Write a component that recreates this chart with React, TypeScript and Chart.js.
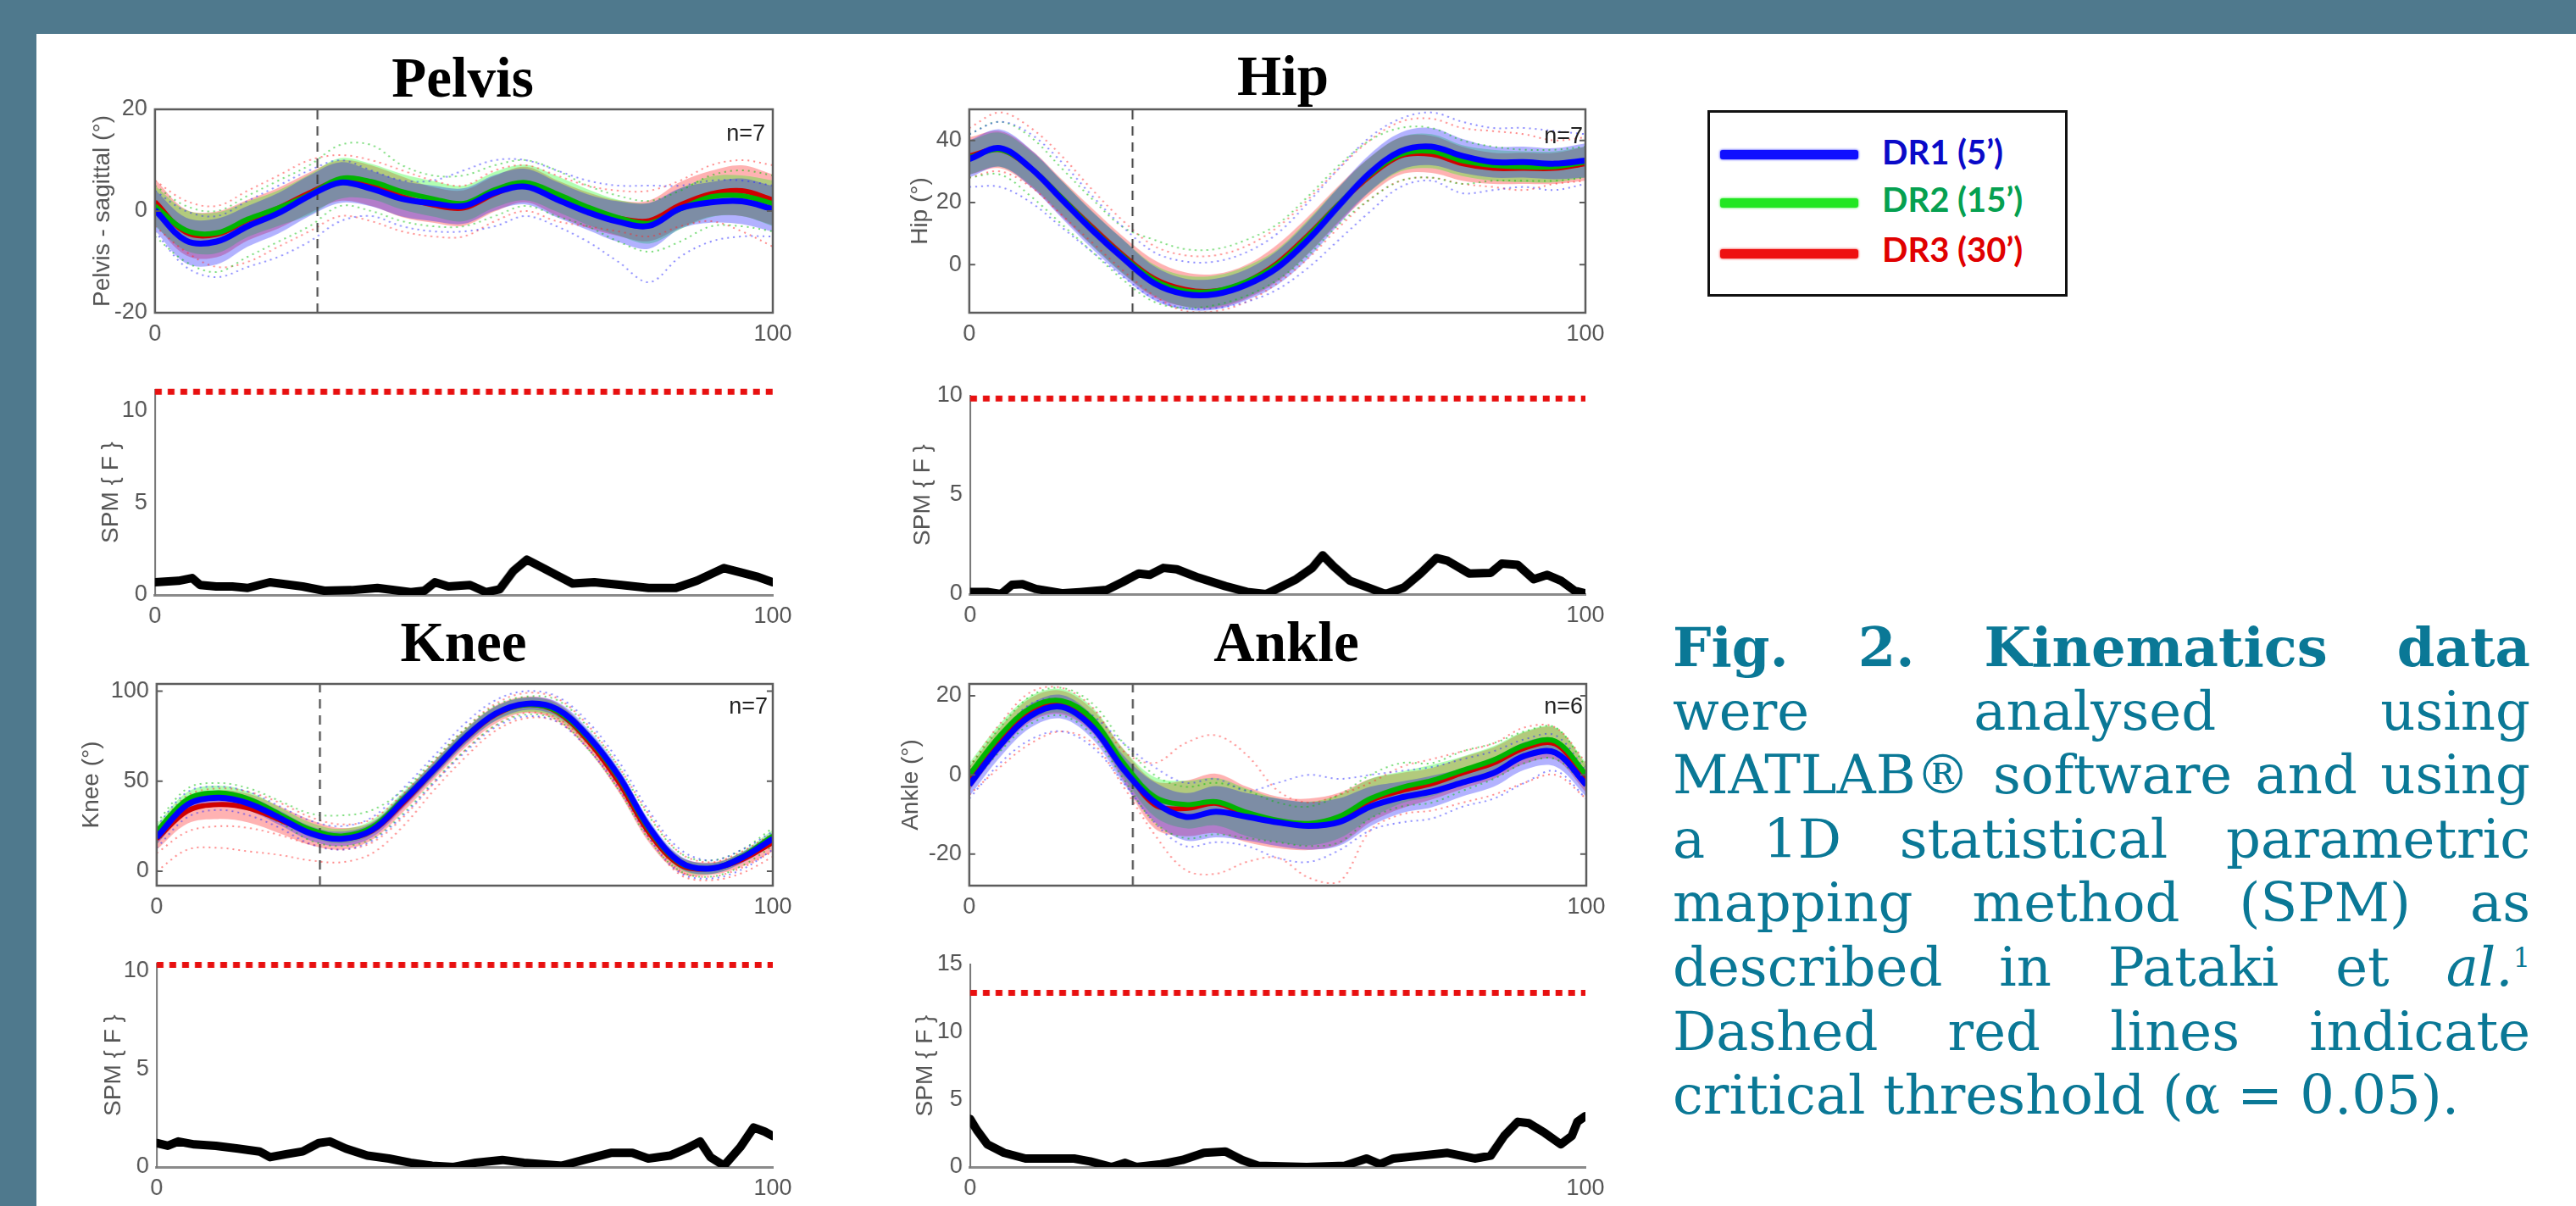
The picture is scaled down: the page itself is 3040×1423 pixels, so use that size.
import React, { useEffect, useRef } from "react";
import { Chart, registerables } from "chart.js";
Chart.register(...registerables);

// ---------------- DATA ----------------
const X = [0, 5, 10, 15, 20, 25, 30, 35, 40, 45, 50, 55, 60, 65, 70, 75, 80, 85, 90, 95, 100];
const X_TICKS = [0, 100];
const CONDITIONS = ["DR1 (5’)", "DR2 (15’)", "DR3 (30’)"];

// Pelvis (sagittal)
const pelvisDR1 = [0.2, -5.8, -6.0, -3.0, -0.4, 3.0, 5.6, 4.4, 2.4, 1.5, 1.0, 3.6, 4.8, 2.3, -0.2, -2.1, -2.9, 0.5, 1.7, 1.9, 0.4];
const pelvisDR2 = [1.0, -3.8, -4.3, -1.6, 0.6, 3.2, 6.4, 5.8, 3.8, 2.4, 1.5, 4.2, 5.6, 3.4, 0.8, -1.3, -2.4, 0.4, 2.8, 3.0, 1.5];
const pelvisDR3 = [1.8, -4.2, -4.6, -1.8, 0.6, 3.6, 6.0, 5.0, 2.8, 1.2, 0.6, 3.4, 5.2, 2.6, 0.2, -1.4, -1.9, 1.2, 3.4, 4.0, 2.2];
const pelvisSD1 = [4, 4.5, 4.5, 4, 4, 4, 4, 3.5, 3.5, 3.5, 3.5, 3.5, 3.5, 3.5, 3.5, 4, 4.5, 4, 4, 4.5, 4.5];
const pelvisSD2 = [4, 4, 4, 3.5, 3.5, 4, 4, 3.5, 3.5, 3.5, 3.5, 3.5, 3.5, 3.5, 3.5, 3.5, 4, 4, 4, 4, 4.5];
const pelvisSD3 = [4.5, 4.5, 4.5, 4, 4, 4, 4, 4, 4, 3.5, 3.5, 3.5, 3.5, 3.5, 3.5, 3.5, 4, 4.5, 4.5, 5, 5];
const pelvisTrialsDR1 = [
  [4, 0, -1, 2, 5, 8, 10, 8, 6, 6, 8, 10, 10, 8, 6, 5, 5, 5, 6, 6, 5],
  [-4, -11, -13, -11, -9, -6, -2, -1, -3, -4, -4, -3, -1, -3, -6, -10, -14, -9, -6, -5, -5],
];
const pelvisTrialsDR2 = [
  [5, 1, 0, 3, 6, 9, 13, 13, 9, 7, 7, 9, 10, 8, 5, 3, 2, 4, 7, 8, 7],
  [-5, -10, -12, -9, -6, -3, 1, 0, -2, -3, -3, -1, 1, -1, -3, -6, -8, -6, -3, -3, -4],
];
const pelvisTrialsDR3 = [
  [6, 2, 1, 4, 7, 10, 11, 10, 8, 6, 5, 8, 9, 7, 5, 4, 4, 6, 9, 10, 9],
  [-3, -8, -11, -10, -7, -4, -1, -2, -4, -5, -5, -2, 0, -2, -3, -4, -5, -3, -2, -4, -7],
];

// Hip
const hipDR1 = [34, 37.5, 31, 21, 11, 2, -6, -9.5, -9.5, -6.5, -1, 8, 19, 29.5, 36.5, 38, 35, 33, 33, 32.5, 33.5];
const hipDR2 = [34.5, 37, 31, 21.5, 11.5, 2.5, -5, -8.5, -8.5, -5.5, 0, 9, 19.5, 29, 35.5, 36.5, 33.5, 32, 31.5, 31.5, 33];
const hipDR3 = [35, 37, 31, 21.5, 12, 3, -4.5, -8, -8.5, -5.5, 0.5, 9.5, 19.5, 28.5, 35, 35.5, 32.5, 31, 31, 31, 32.5];
const hipSD1 = [6, 6, 6, 6, 6, 6, 5.5, 5, 5, 5, 5.5, 6, 6, 6, 6, 6, 5.5, 5, 5, 5, 5.5];
const hipSD2 = [5.5, 5.5, 5.5, 5.5, 5.5, 5.5, 5, 5, 5, 5, 5, 5.5, 5.5, 5.5, 5.5, 5.5, 5, 5, 5, 5, 5];
const hipSD3 = [6, 6, 6, 6, 6, 6, 6, 5.5, 5.5, 5.5, 6, 6, 6, 6, 6, 6, 5.5, 5, 5, 5, 5.5];
const hipTrialsDR1 = [
  [42, 46, 42, 33, 22, 12, 4, 1, 1, 4, 10, 20, 31, 41, 47, 49, 46, 44, 44, 43, 42],
  [25, 25, 20, 12, 4, -4, -11, -14, -14, -12, -8, -1, 8, 17, 25, 27, 23, 24, 25, 24, 26],
];
const hipTrialsDR2 = [
  [42, 46, 41, 31, 21, 12, 8, 5, 5, 8, 13, 22, 32, 40, 44, 44, 40, 38, 37, 37, 38],
  [28, 29, 22, 13, 4, -5, -12, -14, -13, -10, -5, 3, 13, 21, 27, 28, 26, 27, 27, 27, 28],
];
const hipTrialsDR3 = [
  [44, 49, 44, 35, 24, 14, 6, 3, 3, 6, 12, 21, 31, 40, 46, 47, 44, 43, 42, 40, 41],
  [28, 30, 25, 16, 7, -2, -10, -15, -15, -12, -6, 2, 12, 21, 27, 28, 26, 25, 24, 26, 27],
];

// Knee
const kneeDR1 = [18.8, 37, 40.8, 37.5, 29.5, 21, 18, 23, 39, 56.5, 74, 87.5, 93, 90, 75, 53, 24, 5, 1.5, 7.5, 18];
const kneeDR2 = [22, 40, 43.5, 40, 31.5, 23, 19.5, 24.5, 40, 57, 74.5, 87.5, 92.5, 89, 74, 52, 23, 4.5, 1.5, 8, 19.5];
const kneeDR3 = [18, 33.5, 37, 35, 28.5, 21.5, 18, 22.5, 38, 56, 73.5, 87, 92.5, 88.5, 72.5, 49.5, 21, 3.5, 1.5, 6.5, 16];
const kneeSD1 = [4, 4, 4, 4, 4, 4, 4, 4, 4, 4, 4, 4, 3.5, 4, 4, 4, 4, 3.5, 3, 3, 3.5];
const kneeSD2 = [4, 4, 4, 4, 4, 4, 4, 4, 4, 4, 4, 4, 4, 4, 4, 4, 4, 3.5, 3, 3, 3.5];
const kneeSD3 = [6, 7, 8, 8, 7.5, 7, 6, 5, 5, 5, 5, 5, 4.5, 5, 5, 5.5, 5.5, 4.5, 3.5, 4, 5];
const kneeTrialsDR1 = [
  [25, 44, 47, 44, 36, 28, 25, 30, 46, 64, 82, 95, 100, 97, 83, 61, 33, 12, 6, 12, 22],
  [13, 30, 34, 31, 24, 15, 12, 17, 31, 49, 66, 80, 86, 83, 68, 46, 18, -1, -4, 1, 12],
];
const kneeTrialsDR2 = [
  [27, 46, 49, 46, 39, 32, 31, 34, 45, 62, 79, 92, 97, 95, 80, 58, 30, 10, 6, 12, 24],
  [16, 34, 37, 34, 27, 17, 14, 18, 32, 50, 67, 81, 87, 84, 68, 45, 17, 0, -3, 3, 14],
];
const kneeTrialsDR3 = [
  [24, 42, 46, 44, 38, 30, 26, 29, 43, 61, 79, 93, 99, 96, 81, 58, 31, 10, 5, 11, 21],
  [0, 12, 13, 11, 9, 6, 5, 10, 25, 45, 63, 78, 85, 83, 68, 45, 18, -2, -5, -1, 8],
  [10, 22, 25, 24, 20, 15, 12, 16, 30, 49, 67, 81, 88, 85, 70, 47, 20, 0, -3, 2, 11],
];

// Ankle
const ankleDR1 = [-2.5, 7.5, 15, 17.2, 12, 1.4, -6.8, -10.6, -9.3, -10.6, -12, -12.9, -11.9, -8, -5.7, -4.2, -1.9, 0.5, 4.8, 5.6, -2.5];
const ankleDR2 = [0, 10, 17, 18.7, 14, 3, -5.5, -7.5, -6.8, -9.5, -11.5, -12.3, -10.5, -6, -3.2, -1.4, 1.2, 3.8, 7.5, 8.5, 0];
const ankleDR3 = [-1, 9, 16.5, 18.3, 13.5, 2.5, -7.5, -8.5, -7.2, -10, -12, -12.5, -11, -6.5, -4, -2.2, 0.5, 3, 6.8, 7.8, -1];
const ankleSD1 = [3, 3, 3, 3, 3, 3.5, 5, 6, 6.5, 6, 6, 6, 6, 5, 4, 4, 3.5, 3.5, 3.5, 3.5, 3];
const ankleSD2 = [3, 3, 3, 3, 3, 3.5, 5, 6, 6, 6, 5.5, 5.5, 5.5, 5, 4, 4, 3.5, 3.5, 3.5, 3.5, 3];
const ankleSD3 = [3, 3, 3, 3, 3, 4, 6, 7, 7.5, 7, 6.5, 6.5, 6.5, 5.5, 4.5, 4, 4, 4, 4, 4, 3.5];
const ankleTrialsDR1 = [
  [0, 10, 18, 19, 15, 8, 2, -2, -1, -4, -2, 0, -1, 0, 1, 2, 4, 6, 9, 10, 1],
  [-6, 3, 9, 11, 7, -2, -12, -18, -17, -18, -21, -22, -19, -14, -12, -11, -8, -6, -2, 1, -6],
];
const ankleTrialsDR2 = [
  [2, 12, 20, 22, 18, 8, 0, -3, -2, -4, -7, -8, -5, 0, 3, 3, 6, 8, 11, 12, 2],
  [-3, 6, 13, 15, 10, -1, -12, -16, -15, -16, -17, -18, -17, -11, -8, -7, -4, -1, 3, 4, -3],
];
const ankleTrialsDR3 = [
  [2, 13, 21, 22, 17, 6, 3, 8, 10, 5, -4, -7, -5, -2, 2, 4, 6, 8, 12, 12, 3],
  [-5, 2, 8, 11, 8, -3, -15, -24, -25, -22, -21, -26, -27, -14, -10, -9, -7, -5, -2, 0, -6],
];

// SPM{F} curves
const spmPelvisX = [0, 3.8, 6, 7.3, 9.9, 12.5, 15, 18.6, 23.9, 27.4, 31.8, 36, 41.4, 43.6, 45.3, 47.5, 51, 53.6, 55.8, 58, 60.2, 62.4, 65, 67.6, 71.1, 75.5, 79.9, 84.3, 87.7, 92.1, 94.8, 97.4, 100];
const spmPelvisF = [0.69, 0.77, 0.92, 0.54, 0.46, 0.46, 0.38, 0.69, 0.46, 0.23, 0.26, 0.38, 0.15, 0.23, 0.69, 0.46, 0.54, 0.15, 0.31, 1.3, 1.92, 1.54, 1.08, 0.62, 0.69, 0.54, 0.38, 0.38, 0.77, 1.46, 1.23, 1.0, 0.69];
const spmHipX = [0, 2.8, 5, 6.8, 8.5, 10.7, 15.1, 17.8, 22.2, 24.8, 27.4, 29.2, 31.4, 33.6, 37.1, 41.5, 45, 48.1, 50.3, 53, 55.6, 57.3, 59.1, 61.7, 65.3, 67.5, 70.5, 73.2, 75.8, 77.6, 81.1, 84.6, 86.4, 89, 91.6, 93.8, 96, 98.2, 100];
const spmHipF = [0.11, 0.11, 0, 0.47, 0.5, 0.26, 0.04, 0.1, 0.21, 0.61, 1.04, 0.97, 1.32, 1.25, 0.83, 0.4, 0.11, 0, 0.33, 0.75, 1.32, 1.96, 1.39, 0.68, 0.26, 0, 0.33, 1.04, 1.82, 1.68, 1.04, 1.07, 1.54, 1.47, 0.75, 0.97, 0.68, 0.18, 0.04];
const spmKneeX = [0, 1.8, 3.5, 6.1, 9.6, 13.2, 16.7, 18.4, 21, 23.7, 26.3, 28.1, 30.7, 34.2, 37.7, 41.2, 44.7, 48.2, 51.8, 56.1, 59.6, 65.8, 69.3, 73.7, 77.2, 79.8, 83.3, 86, 88.2, 89.9, 92.1, 94.7, 96.9, 98.7, 100];
const spmKneeF = [1.22, 1.08, 1.3, 1.15, 1.08, 0.94, 0.79, 0.5, 0.65, 0.79, 1.22, 1.3, 0.94, 0.58, 0.43, 0.22, 0.07, 0, 0.22, 0.36, 0.22, 0.07, 0.36, 0.72, 0.72, 0.43, 0.58, 0.94, 1.3, 0.5, 0.07, 1.0, 2.01, 1.8, 1.58];
const spmAnkleX = [0, 1.1, 2.8, 5.5, 9, 13.4, 16.9, 19.5, 23, 25.2, 27, 31, 34.5, 38, 41.5, 44.2, 46.8, 54.7, 60.9, 64.4, 66.6, 68.8, 73.2, 77.6, 82, 84.6, 86.8, 89, 90.8, 93.4, 96, 97.8, 98.7, 100];
const spmAnkleF = [3.56, 2.73, 1.68, 1.05, 0.63, 0.63, 0.63, 0.42, 0, 0.31, 0, 0.21, 0.52, 1.05, 1.15, 0.52, 0.1, 0, 0.1, 0.63, 0.21, 0.63, 0.84, 1.05, 0.63, 0.84, 2.31, 3.35, 3.25, 2.52, 1.68, 2.31, 3.35, 3.77];

// critical thresholds (alpha = 0.05), toe-off events, sample sizes
const thresholds = { pelvis: 11.05, hip: 9.86, knee: 10.29, ankle: 12.9 };
const events = { pelvis: 26.3, hip: 26.5, knee: 26.5, ankle: 26.5 };
const sampleSizes = { pelvis: "n=7", hip: "n=7", knee: "n=7", ankle: "n=6" };

// axis ticks
const pelvisTicks = [-20, 0, 20];
const hipTicks = [0, 20, 40];
const kneeTicks = [0, 50, 100];
const ankleTicks = [-20, 0, 20];
const spmTicks10 = [0, 5, 10];
const spmTicks15 = [0, 5, 10, 15];

// ---------------- STYLE ----------------
const MEAN_COLORS = ["#0000ff", "#00b400", "#d00000"];
const BAND_COLORS = ["rgba(0,0,255,0.3)", "rgba(0,255,0,0.3)", "rgba(255,0,0,0.3)"];
const TRIAL_COLORS = ["rgba(40,40,255,0.55)", "rgba(0,190,0,0.55)", "rgba(255,40,40,0.55)"];
const LEGEND_LINE = ["#1010ff", "#22e622", "#ee1111"];
const LEGEND_TEXT = ["#0a0ac8", "#05a050", "#e00000"];
const TEAL = "#0a7896";
const PAD_TOP = 30;
const PAD_RIGHT = 50;
const X_H = 50;
const SANS = "Liberation Sans, Arial, sans-serif";
const TICK_FONT = { family: SANS, size: 27 };

type Area = { l: number; t: number; r: number; b: number };

const pts = (xs: number[], ys: number[]) => xs.map((x, i) => ({ x, y: ys[i] }));

function buildKin(means: number[][], sds: number[][], trials: number[][][], eventX: number, yMin: number, yMax: number) {
  const list: any[] = [];
  const TR = 0.35;
  for (const c of [2, 1, 0]) {
    list.push({ data: pts(X, means[c].map((m, i) => m - sds[c][i])), borderColor: "rgba(0,0,0,0)", borderWidth: 0, pointRadius: 0, fill: false, tension: TR });
    list.push({ data: pts(X, means[c].map((m, i) => m + sds[c][i])), borderColor: "rgba(0,0,0,0)", borderWidth: 0, pointRadius: 0, fill: "-1", backgroundColor: BAND_COLORS[c], tension: TR });
  }
  for (const c of [2, 1, 0]) {
    for (const tr of trials[c]) {
      list.push({ data: pts(X, tr), borderColor: TRIAL_COLORS[c], borderWidth: 2, borderDash: [2, 5], pointRadius: 0, fill: false, tension: TR });
    }
  }
  list.push({ data: [{ x: eventX, y: yMin }, { x: eventX, y: yMax }], borderColor: "#3a3a3a", borderWidth: 2, borderDash: [11, 8], pointRadius: 0, fill: false });
  for (const c of [2, 1, 0]) {
    list.push({ data: pts(X, means[c]), borderColor: MEAN_COLORS[c], borderWidth: c === 0 ? 7 : 6, pointRadius: 0, fill: false, tension: TR });
  }
  list.forEach((d, i) => { d.order = list.length - i; });
  return list;
}

function buildSpm(xs: number[], ys: number[], thr: number) {
  return [
    { data: pts(xs, ys), borderColor: "#000", borderWidth: 10, tension: 0, pointRadius: 0, fill: false, borderJoinStyle: "round", borderCapStyle: "round" },
    { data: [{ x: 0, y: thr }, { x: 100, y: thr }], borderColor: "#e81010", borderWidth: 7, borderDash: [8, 7], pointRadius: 0, fill: false, clip: 10 },
  ];
}

const framePlugin = {
  id: "frame",
  afterDatasetsDraw(chart: any, _args: any, opts: any) {
    const { ctx, chartArea: a } = chart;
    ctx.save();
    ctx.strokeStyle = "#5c5c5c";
    if (opts && opts.box) {
      ctx.lineWidth = 2.5;
      ctx.strokeRect(a.left, a.top, a.right - a.left, a.bottom - a.top);
      const ys = chart.scales.y;
      ctx.lineWidth = 2;
      for (const t of ys.ticks) {
        const p = ys.getPixelForValue(t.value);
        ctx.beginPath();
        ctx.moveTo(a.left, p); ctx.lineTo(a.left + 7, p);
        ctx.moveTo(a.right, p); ctx.lineTo(a.right - 7, p);
        ctx.stroke();
      }
    }
    ctx.restore();
  },
};

type PlotSpec = {
  area: Area;
  labelDist: number;
  yMin: number;
  yMax: number;
  yTicks: number[];
  yTitle: string;
  box: boolean;
  datasets: any[];
};

function Plot({ spec }: { spec: PlotSpec }) {
  const ref = useRef<HTMLCanvasElement>(null);
  const yw = spec.labelDist + 16.8;
  const cl = spec.area.l - yw;
  const ct = spec.area.t - PAD_TOP;
  const cw = yw + (spec.area.r - spec.area.l) + PAD_RIGHT;
  const ch = PAD_TOP + (spec.area.b - spec.area.t) + X_H;
  useEffect(() => {
    const chart = new Chart(ref.current as HTMLCanvasElement, {
      type: "line",
      data: { datasets: spec.datasets },
      options: {
        responsive: false,
        animation: false,
        devicePixelRatio: 1,
        layout: { padding: { top: PAD_TOP, right: PAD_RIGHT, left: 0, bottom: 0 } },
        plugins: { legend: { display: false }, tooltip: { enabled: false }, frame: { box: spec.box } } as any,
        scales: {
          x: {
            type: "linear",
            min: 0,
            max: 100,
            grid: { display: false, drawTicks: false },
            border: { display: !spec.box, color: "#8a8a8a", width: 3 },
            ticks: { color: "#555", font: TICK_FONT, padding: 9, maxRotation: 0, autoSkip: false },
            afterBuildTicks: (a: any) => { a.ticks = X_TICKS.map((v) => ({ value: v })); },
            afterFit: (s: any) => { s.height = X_H; },
          },
          y: {
            type: "linear",
            min: spec.yMin,
            max: spec.yMax,
            grid: { display: false, drawTicks: false },
            border: { display: !spec.box, color: "#777", width: 2 },
            ticks: { color: "#555", font: TICK_FONT, padding: 9, autoSkip: false },
            title: { display: true, text: spec.yTitle, color: "#555", font: { family: SANS, size: 28 }, padding: 0 },
            afterBuildTicks: (a: any) => { a.ticks = spec.yTicks.map((v) => ({ value: v })); },
            afterFit: (s: any) => { s.width = yw; },
          },
        },
      } as any,
      plugins: [framePlugin],
    });
    return () => chart.destroy();
  }, []);
  return (
    <canvas
      ref={ref}
      width={cw}
      height={ch}
      style={{ position: "absolute", left: cl, top: ct, width: cw, height: ch }}
    />
  );
}

const AREAS = {
  pelvisKin: { l: 183, t: 129, r: 912, b: 369 },
  hipKin: { l: 1144, t: 129, r: 1871, b: 369 },
  kneeKin: { l: 185, t: 807, r: 912, b: 1045 },
  ankleKin: { l: 1144, t: 807, r: 1872, b: 1045 },
  pelvisSpm: { l: 183, t: 460, r: 912, b: 702 },
  hipSpm: { l: 1145, t: 467, r: 1871, b: 701 },
  kneeSpm: { l: 185, t: 1137, r: 912, b: 1377 },
  ankleSpm: { l: 1145, t: 1138, r: 1871, b: 1377 },
};

const SPECS: PlotSpec[] = [
  { area: AREAS.pelvisKin, labelDist: 62, yMin: -20, yMax: 20, yTicks: pelvisTicks, yTitle: "Pelvis - sagittal (°)", box: true,
    datasets: buildKin([pelvisDR1, pelvisDR2, pelvisDR3], [pelvisSD1, pelvisSD2, pelvisSD3], [pelvisTrialsDR1, pelvisTrialsDR2, pelvisTrialsDR3], events.pelvis, -20, 20) },
  { area: AREAS.hipKin, labelDist: 58, yMin: -15.5, yMax: 50, yTicks: hipTicks, yTitle: "Hip (°)", box: true,
    datasets: buildKin([hipDR1, hipDR2, hipDR3], [hipSD1, hipSD2, hipSD3], [hipTrialsDR1, hipTrialsDR2, hipTrialsDR3], events.hip, -15.5, 50) },
  { area: AREAS.kneeKin, labelDist: 77, yMin: -8, yMax: 104, yTicks: kneeTicks, yTitle: "Knee (°)", box: true,
    datasets: buildKin([kneeDR1, kneeDR2, kneeDR3], [kneeSD1, kneeSD2, kneeSD3], [kneeTrialsDR1, kneeTrialsDR2, kneeTrialsDR3], events.knee, -8, 104) },
  { area: AREAS.ankleKin, labelDist: 69, yMin: -28, yMax: 23, yTicks: ankleTicks, yTitle: "Ankle (°)", box: true,
    datasets: buildKin([ankleDR1, ankleDR2, ankleDR3], [ankleSD1, ankleSD2, ankleSD3], [ankleTrialsDR1, ankleTrialsDR2, ankleTrialsDR3], events.ankle, -28, 23) },
  { area: AREAS.pelvisSpm, labelDist: 52, yMin: 0, yMax: 11.15, yTicks: spmTicks10, yTitle: "SPM { F }", box: false,
    datasets: buildSpm(spmPelvisX, spmPelvisF, thresholds.pelvis) },
  { area: AREAS.hipSpm, labelDist: 56, yMin: 0, yMax: 10, yTicks: spmTicks10, yTitle: "SPM { F }", box: false,
    datasets: buildSpm(spmHipX, spmHipF, thresholds.hip) },
  { area: AREAS.kneeSpm, labelDist: 51, yMin: 0, yMax: 10.35, yTicks: spmTicks10, yTitle: "SPM { F }", box: false,
    datasets: buildSpm(spmKneeX, spmKneeF, thresholds.knee) },
  { area: AREAS.ankleSpm, labelDist: 53, yMin: 0, yMax: 15, yTicks: spmTicks15, yTitle: "SPM { F }", box: false,
    datasets: buildSpm(spmAnkleX, spmAnkleF, thresholds.ankle) },
];

const TITLES = [
  { text: "Pelvis", cx: 546, baseline: 114 },
  { text: "Hip", cx: 1514, baseline: 112 },
  { text: "Knee", cx: 547, baseline: 780 },
  { text: "Ankle", cx: 1518, baseline: 780 },
];

const N_LABELS = [
  { text: sampleSizes.pelvis, right: 903, cy: 157 },
  { text: sampleSizes.hip, right: 1868, cy: 160 },
  { text: sampleSizes.knee, right: 906, cy: 833 },
  { text: sampleSizes.ankle, right: 1868, cy: 833 },
];

const CAPTION_LINES = [
  "Fig. 2. Kinematics data",
  "were analysed using",
  "MATLAB® software and using",
  "a 1D statistical parametric",
  "mapping method (SPM) as",
  "described in Pataki et al.",
  "Dashed red lines indicate",
  "critical threshold (α = 0.05).",
];

const CAP_LEFT = 1974;
const CAP_WIDTH = 1012;
const CAP_LINE = 75.6;
const CAP_TOP = 726;
const TITLE_SIZE = 67;

export default function App() {
  useEffect(() => {
    document.body.style.margin = "0";
    document.body.style.overflow = "hidden";
  }, []);
  const legendY = [182, 239, 299];
  const legendTextY = [180, 236, 295];
  return (
    <div style={{ position: "absolute", left: 0, top: 0, width: 3040, height: 1423, background: "#4f798d", overflow: "hidden" }}>
      <div style={{ position: "absolute", left: 43, top: 40, width: 3040 - 43, height: 1423 - 40, background: "#ffffff" }} />

      {TITLES.map((t) => (
        <div
          key={t.text}
          style={{
            position: "absolute", left: t.cx - 200, width: 400, top: t.baseline - 0.8375 * TITLE_SIZE,
            fontFamily: "Liberation Serif, 'Times New Roman', serif", fontWeight: "bold", fontSize: TITLE_SIZE, lineHeight: TITLE_SIZE + "px",
            textAlign: "center", color: "#000",
          }}
        >
          {t.text}
        </div>
      ))}

      {SPECS.map((s, i) => (
        <Plot key={i} spec={s} />
      ))}

      {N_LABELS.map((n, i) => (
        <div
          key={i}
          style={{
            position: "absolute", left: n.right - 200, width: 200, top: n.cy - 13, textAlign: "right",
            fontFamily: SANS, fontSize: 27, lineHeight: "27px", color: "#222",
          }}
        >
          {n.text}
        </div>
      ))}

      {/* legend */}
      <div style={{ position: "absolute", left: 2015, top: 130, width: 425, height: 220, boxSizing: "border-box", border: "3px solid #111", background: "#fff" }} />
      {CONDITIONS.map((c, i) => (
        <React.Fragment key={c}>
          <div style={{ position: "absolute", left: 2030, width: 163, top: legendY[i] - 5.5, height: 11, background: LEGEND_LINE[i], borderRadius: 3, boxShadow: `0 0 3px ${LEGEND_LINE[i]}` }} />
          <div
            style={{
              position: "absolute", left: 2221, top: legendTextY[i] - 21, fontFamily: "Lato, 'Open Sans', sans-serif", fontWeight: "bold",
              fontSize: 40, lineHeight: "40px", color: LEGEND_TEXT[i], whiteSpace: "nowrap",
            }}
          >
            {c}
          </div>
        </React.Fragment>
      ))}

      {/* caption */}
      {CAPTION_LINES.map((line, k) => (
        <div
          key={k}
          style={{
            position: "absolute", left: CAP_LEFT, width: CAP_WIDTH, top: CAP_TOP + CAP_LINE * k,
            fontFamily: "'DejaVu Serif', Georgia, serif", fontSize: 64, lineHeight: CAP_LINE + "px",
            color: TEAL, fontWeight: k === 0 ? "bold" : "normal",
            textAlign: "justify", textAlignLast: k < CAPTION_LINES.length - 1 ? "justify" : "left",
          } as any}
        >
          {k === 5 ? (
            <>
              described in Pataki et <i>al.</i><sup style={{ fontSize: 32, lineHeight: 0, verticalAlign: "super" }}>1</sup>
            </>
          ) : (
            line
          )}
        </div>
      ))}
    </div>
  );
}
